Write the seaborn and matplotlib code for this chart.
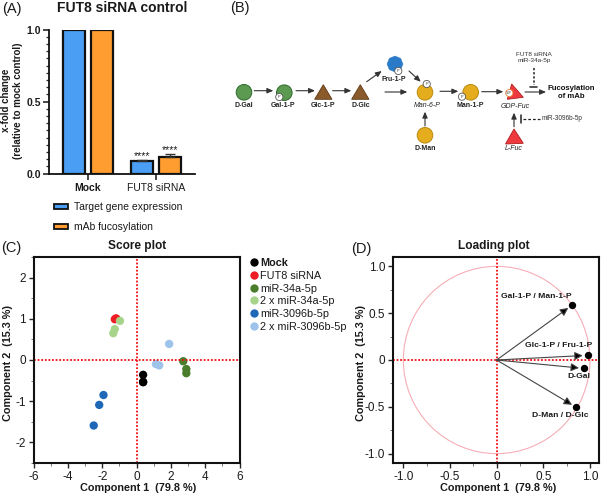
import matplotlib
matplotlib.use("Agg")
import matplotlib.pyplot as plt
import numpy as np
import pandas as pd
import seaborn as sns
from matplotlib.patches import Circle, Polygon, RegularPolygon
from matplotlib.ticker import MultipleLocator

sns.set_theme(style="ticks")
plt.rcParams["font.family"] = ["Liberation Sans", "DejaVu Sans"]
plt.rcParams["axes.unicode_minus"] = False

# panel A
grupos_a = ["Mock", "FUT8 siRNA"]
series_a = ["Target gene expression", "mAb fucosylation"]
target_gene = [1.0, 0.085]
fucosylation = [1.0, 0.115]
erro_target = [0.0, 0.012]
erro_fuc = [0.0, 0.024]
cores_a = ["#4a9ff5", "#ff9d30"]

# panel C
tratamentos = ["Mock", "FUT8 siRNA", "miR-34a-5p", "2 x miR-34a-5p",
               "miR-3096b-5p", "2 x miR-3096b-5p"]
score_x = [0.38, 0.38, 0.38, -1.27, -1.17, -1.2, 2.72, 2.9, 2.9,
           -0.97, -1.27, -1.36, -1.93, -2.18, -2.5, 1.9, 1.13, 1.32]
score_y = [-0.36, -0.53, -0.54, 0.99, 1.0, 1.01, -0.03, -0.22, -0.32,
           0.95, 0.75, 0.65, -0.85, -1.09, -1.59, 0.39, -0.1, -0.13]
cores_c = ["#000000", "#ee1c25", "#4a7d2c", "#a6d48a", "#1f68b8", "#9dc3ea"]

# panel D
metabolitos = ["Gal-1-P / Man-1-P", "Glc-1-P / Fru-1-P", "D-Gal", "D-Man / D-Glc"]
load_x = [0.81, 0.975, 0.935, 0.853]
load_y = [0.587, 0.05, -0.09, -0.505]

W, H = 602, 496
fig = plt.figure(figsize=(W / 100, H / 100), dpi=100)


def eixo_px(x0, y0, x1, y1):
    # axes from reference pixels (top left origin)
    return fig.add_axes([x0 / W, 1 - y1 / H, (x1 - x0) / W, (y1 - y0) / H])


TXT = "#1a1a1a"

# ---- (A) bars ----
ax = eixo_px(49, 29.7, 195, 173.5)
df_a = pd.DataFrame({
    "grupo": grupos_a * 2,
    "serie": [series_a[0]] * 2 + [series_a[1]] * 2,
    "valor": target_gene + fucosylation,
})
sns.barplot(data=df_a, x="grupo", y="valor", hue="serie", palette=cores_a, width=0.82,
            gap=0.2, saturation=1, edgecolor="#111111", linewidth=1.6, legend=False, ax=ax)
barras = [p for c in ax.containers for p in c]
erros = erro_target + erro_fuc
valores = target_gene + fucosylation
for b, e, v in zip(barras, erros, valores):
    cx = b.get_x() + b.get_width() / 2
    if e > 0:
        ax.errorbar(cx, v, yerr=[[0], [e]], color="#333333", lw=1, capsize=3.5, capthick=1)
        ax.text(cx, v + e - 0.014, "****", ha="center", va="bottom", fontsize=7.5, color=TXT)
ax.set_xlim(-0.574, 1.574)
ax.set_ylim(0, 1.0)
ax.set_yticks([0, 0.5, 1.0], ["0.0", "0.5", "1.0"], fontsize=7.5, fontweight="bold", color=TXT)
ax.yaxis.set_minor_locator(MultipleLocator(0.05))
ax.set_xticks([0, 1], grupos_a, fontsize=7.5, color=TXT)
ax.get_xticklabels()[0].set_fontweight("bold")
ax.tick_params(axis="both", which="major", length=4, width=1.2, pad=3)
ax.tick_params(axis="y", which="major", pad=1.5)
ax.tick_params(axis="y", which="minor", length=2.2, width=0.9)
ax.set_xlabel("")
ax.set_ylabel("")
for s in ["top", "right"]:
    ax.spines[s].set_visible(False)
for s in ["left", "bottom"]:
    ax.spines[s].set_linewidth(1.3)
    ax.spines[s].set_color("#111111")
ax.patch.set_alpha(0)

# ---- (C) score plot ----
ax = eixo_px(33.7, 257, 239.5, 463)
df_c = pd.DataFrame({"x": score_x, "y": score_y,
                     "tratamento": np.repeat(tratamentos, 3)})
sns.scatterplot(data=df_c, x="x", y="y", hue="tratamento", palette=cores_c, s=36,
                linewidth=0, ax=ax)
ax.axhline(0, color="#f01010", lw=1.3, ls=(0, (1, 1)), zorder=1)
ax.axvline(0, color="#f01010", lw=1.3, ls=(0, (1, 1)), zorder=1)
ax.set_xlim(-6, 6)
ax.set_ylim(-2.5, 2.5)
ax.set_xticks([-6, -4, -2, 0, 2, 4, 6])
ax.set_yticks([-2, -1, 0, 1, 2])
ax.xaxis.set_minor_locator(MultipleLocator(1))
ax.yaxis.set_minor_locator(MultipleLocator(0.5))
ax.set_xlabel("")
ax.set_ylabel("")
sns.move_legend(ax, "upper left", bbox_to_anchor=(1.038, 1.0), frameon=False, title=None,
                fontsize=7.8, labelspacing=0.25, handlelength=1, handletextpad=0.1,
                borderaxespad=0, borderpad=0.1, markerscale=1)
leg = ax.get_legend()
for t in leg.get_texts():
    t.set_color(TXT)
leg.get_texts()[0].set_fontweight("bold")
score_ax = ax

# ---- (D) loading plot ----
ax = eixo_px(392.7, 257, 599.3, 463)
ax.add_patch(Circle((0, 0), 1, fill=False, ec="#f6aeb6", lw=0.8, zorder=1))
ax.axhline(0, color="#f01010", lw=1.3, ls=(0, (1, 1)), zorder=1)
ax.axvline(0, color="#f01010", lw=1.3, ls=(0, (1, 1)), zorder=1)
sns.scatterplot(x=load_x, y=load_y, color="black", s=28, linewidth=0, ax=ax, zorder=3)
for lx, ly in zip(load_x, load_y):
    ax.annotate("", xy=(lx, ly), xytext=(0, 0),
                arrowprops=dict(arrowstyle="-|>,head_length=0.4,head_width=0.2", color="#444444",
                                fc="black", ec="#444444", lw=0.8, shrinkA=0, shrinkB=3.5))
offs = [(-0.386, 0.095), (-0.315, 0.10), (-0.05, -0.09), (-0.167, -0.092)]
for nome, lx, ly, (dx, dy) in zip(metabolitos, load_x, load_y, offs):
    ax.text(lx + dx, ly + dy, nome, fontsize=6.1, fontweight="bold", color=TXT,
            ha="center", va="center")
ax.set_xlim(-1.114, 1.1)
ax.set_ylim(-1.1, 1.1)
ax.set_xticks([-1, -0.5, 0, 0.5, 1], ["-1.0", "-0.5", "0", "0.5", "1.0"])
ax.set_yticks([-1, -0.5, 0, 0.5, 1], ["-1.0", "-0.5", "0", "0.5", "1.0"])
ax.xaxis.set_minor_locator(MultipleLocator(0.25))
ax.yaxis.set_minor_locator(MultipleLocator(0.25))
ax.set_xlabel("")
ax.set_ylabel("")

for ax in [score_ax, ax]:
    ax.tick_params(axis="both", which="major", length=3.5, width=1, labelsize=8.5,
                   labelcolor=TXT, pad=2)
    ax.tick_params(axis="both", which="minor", length=2, width=0.7, color="#777777")
    for s in ax.spines.values():
        s.set_linewidth(1.5)
        s.set_color("#111111")

# ---- (B) pathway diagram + figure text, in reference pixels ----
ov = fig.add_axes([0, 0, 1, 1], zorder=5)
ov.set_xlim(0, W)
ov.set_ylim(H, 0)
ov.axis("off")
ov.patch.set_alpha(0)

VERDE, VERDE_E = "#5c9a52", "#2f6a2c"
MARROM, MARROM_E = "#8b5a2b", "#5e3a17"
OURO, OURO_E = "#e5ad1e", "#b98a12"
AZUL = "#2a7ac8"
RED, RED_E = "#ee3a3f", "#b01c20"


def bola(x, y, cor, borda, r=7.8):
    ov.add_patch(Circle((x, y), r, fc=cor, ec=borda, lw=0.7))


def fosfato(x, y, rotulo="P", ec="#555555"):
    ov.add_patch(Circle((x, y), 3.6, fc="white", ec=ec, lw=0.6, zorder=6))
    ov.text(x, y, rotulo, fontsize=2.8 if rotulo == "P" else 2, ha="center", va="center",
            color="#333333", zorder=7)


def tri(x, cor, borda):
    ov.add_patch(Polygon([(x, 84.7), (x + 8.7, 99.3), (x - 8.7, 99.3)], fc=cor, ec=borda, lw=0.6))


def seta(x0, y0, x1, y1):
    ov.annotate("", xy=(x1, y1), xytext=(x0, y0),
                arrowprops=dict(arrowstyle="-|>,head_length=0.3,head_width=0.13", color="#333333",
                                lw=0.8, shrinkA=0, shrinkB=0))


bola(244, 92.3, VERDE, VERDE_E)
bola(284.3, 92.7, VERDE, VERDE_E)
fosfato(279.3, 97)
tri(323.3, MARROM, MARROM_E)
tri(360.3, MARROM, MARROM_E)
ov.add_patch(RegularPolygon((395, 64), 8, radius=8, fc=AZUL, ec=AZUL, lw=0.3))
fosfato(398.3, 71)
bola(425, 92.3, OURO, OURO_E)
fosfato(426.7, 84)
bola(425, 135.3, OURO, OURO_E)
bola(470.7, 92.3, OURO, OURO_E)
fosfato(462, 96.7)
ov.add_patch(Polygon([(511.7, 84), (523.3, 97.3), (507.3, 99.3)], fc=RED, ec=RED_E, lw=0.6))
fosfato(509.3, 93, "GDP", "#e8813a")
ov.add_patch(Polygon([(514, 129), (523.3, 143.3), (505.5, 144)], fc=RED, ec=RED_E, lw=0.6))

for x0, y0, x1, y1 in [(254.3, 90.7, 273.3, 90.7), (296, 90.7, 315, 90.7), (332.7, 90.7, 351.3, 90.7),
                       (366.7, 81.7, 381.7, 71), (385, 92, 407.3, 92), (409, 71, 420.7, 81.7),
                       (440, 91.3, 458.3, 91.3), (481.7, 91.7, 503.3, 91.7), (425, 126, 425, 111.7),
                       (514, 126.7, 514, 112.7), (525, 92, 546, 92)]:
    seta(x0, y0, x1, y1)

for x, y, rot in [(244, 105.7, "D-Gal"), (283.5, 105.7, "Gal-1-P"), (323.5, 105.7, "Glc-1-P"),
                  (360.5, 105.7, "D-Glc"), (394.3, 79.3, "Fru-1-P"), (470.7, 105.7, "Man-1-P"),
                  (425, 148.3, "D-Man")]:
    ov.text(x, y, rot, fontsize=5, fontweight="bold", ha="center", va="center", color="#222222")
for x, y, rot in [(427.3, 105.7, "Man-6-P"), (515, 106, "GDP-Fuc"), (514, 148.3, "L-Fuc")]:
    ov.text(x, y, rot, fontsize=5, style="italic", ha="center", va="center", color="#222222")
ov.text(571.7, 92.3, "Fucosylation\nof mAb", fontsize=5.6, fontweight="bold", ha="center", va="center",
        linespacing=1.3, color="#111111")
ov.text(534, 57.5, "FUT8 siRNA\nmiR-34a-5p", fontsize=4.6, ha="center", va="center",
        linespacing=1.45, color="#333333")
ov.text(541.7, 118.7, "miR-3096b-5p", fontsize=4.7, ha="left", va="center", color="#333333")
ov.plot([534, 534], [68, 85], color="#222222", lw=1.1, ls=(0, (1.5, 1.2)))
ov.plot([530, 537], [87, 87], color="#222222", lw=1.1)
ov.plot([523, 540], [118.7, 118.7], color="#222222", lw=0.9, ls=(0, (2.2, 1.6)))
ov.plot([521, 521], [115, 122.7], color="#222222", lw=1.1)

# panel letters and titles
for x, y, rot in [(2, 9, "(A)"), (230, 8, "(B)"), (1, 248, "(C)"), (351, 249, "(D)")]:
    ov.text(x, y, rot, fontsize=10.5, ha="left", va="center", color=TXT)
ov.text(122, 8, "FUT8 siRNA control", fontsize=10, fontweight="bold", ha="center", va="center", color=TXT)
ov.text(136.7, 246, "Score plot", fontsize=8.6, fontweight="bold", ha="center", va="center", color=TXT)
ov.text(494, 246, "Loading plot", fontsize=8.6, fontweight="bold", ha="center", va="center", color=TXT)
ov.text(6, 100, "x-fold change", fontsize=7, fontweight="bold", rotation=90, ha="center", va="center", color=TXT)
ov.text(18, 101, "(relative to mock control)", fontsize=7, fontweight="bold", rotation=90, ha="center", va="center", color=TXT)
ov.text(138, 488, "Component 1  (79.8 %)", fontsize=7.8, fontweight="bold", ha="center", va="center", color=TXT)
ov.text(497.7, 488, "Component 1  (79.8 %)", fontsize=7.8, fontweight="bold", ha="center", va="center", color=TXT)
ov.text(8, 363, "Component 2  (15.3 %)", fontsize=7.8, fontweight="bold", rotation=90, ha="center", va="center", color=TXT)
ov.text(360.7, 363, "Component 2  (15.3 %)", fontsize=7.8, fontweight="bold", rotation=90, ha="center", va="center", color=TXT)

# legenda do painel A
for y, cor, nome in [(206.7, cores_a[0], series_a[0]), (226.7, cores_a[1], series_a[1])]:
    ov.add_patch(plt.Rectangle((53.5, y - 2.5), 14, 5, fc=cor, ec="#111111", lw=1.3))
    ov.text(74, y, nome, fontsize=7.5, ha="left", va="center", color=TXT)

fig.savefig("out.png", dpi=100)
